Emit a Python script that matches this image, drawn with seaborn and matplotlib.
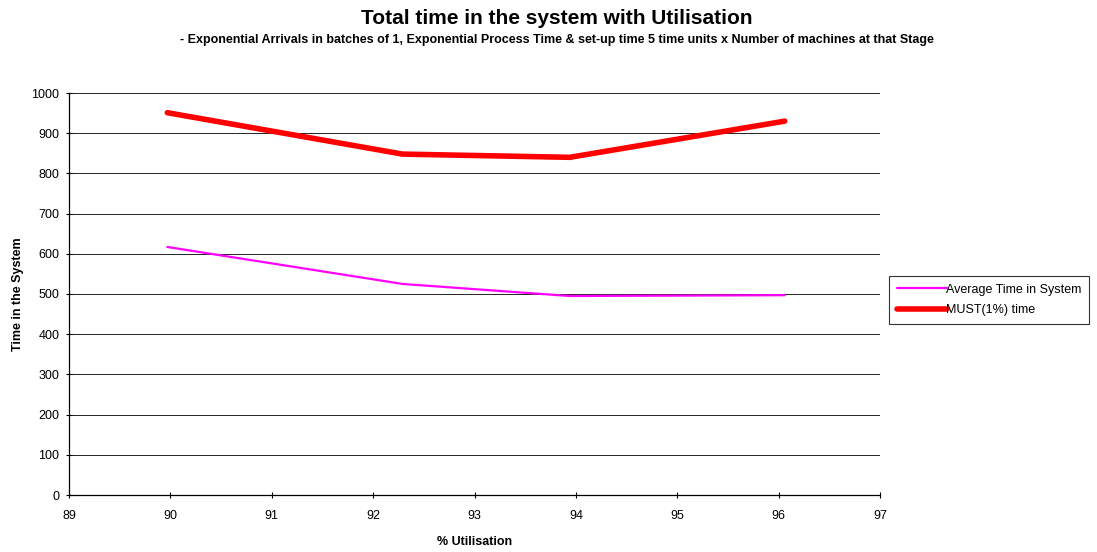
import matplotlib
matplotlib.use("Agg")
import matplotlib.pyplot as plt
import seaborn as sns
import pandas as pd

# Utilisation (%) and timings read per stage configuration
utilisation = [89.97, 92.29, 93.94, 96.06]
avg_time = [617, 525, 495, 497]
must_time = [951, 848, 840, 930]

series_names = ["Average Time in System", "MUST(1%) time"]
x_ticks = list(range(89, 98))
y_ticks = list(range(0, 1001, 100))

sns.set_theme(style="white")
plt.rcParams["font.family"] = ["Liberation Sans", "DejaVu Sans"]
plt.rcParams["text.color"] = "black"
plt.rcParams["axes.labelcolor"] = "black"

fig = plt.figure(figsize=(10.97, 5.52), dpi=100)
ax = fig.add_axes([69 / 1097, 1 - 495 / 552, (880 - 69) / 1097, (495 - 93) / 552])

df = pd.DataFrame({
    "util": utilisation * 2,
    "time": avg_time + must_time,
    "series": [series_names[0]] * 4 + [series_names[1]] * 4,
})

sns.lineplot(data=df[df.series == series_names[0]], x="util", y="time",
             color="#ff00ff", linewidth=1.6, ax=ax, label=series_names[0])
sns.lineplot(data=df[df.series == series_names[1]], x="util", y="time",
             color="#ff0000", linewidth=4, ax=ax, label=series_names[1],
             solid_capstyle="round")

ax.set_xlim(89, 97)
ax.set_ylim(0, 1000)
ax.set_xticks(x_ticks)
ax.set_yticks(y_ticks)
ax.tick_params(axis="both", labelsize=9, length=4, width=0.8, direction="inout",
               bottom=True, left=True, colors="black")
ax.tick_params(axis="x", pad=9)
ax.tick_params(axis="y", pad=5)
ax.grid(axis="y", color="black", linewidth=0.6)
ax.set_axisbelow(True)
for side in ["top", "right"]:
    ax.spines[side].set_visible(False)
for side in ["left", "bottom"]:
    ax.spines[side].set_color("black")
    ax.spines[side].set_linewidth(0.9)

ax.set_xlabel("% Utilisation", fontsize=9, fontweight="bold", labelpad=10)
ax.set_ylabel("Time in the System", fontsize=9, fontweight="bold", labelpad=5)

fig.text(557 / 1097, 1 - 18 / 552, "Total time in the system with Utilisation",
         ha="center", va="center", fontsize=15, fontweight="bold")
fig.text(557 / 1097, 1 - 40 / 552,
         "- Exponential Arrivals in batches of 1, Exponential Process Time & set-up time 5 time units x Number of machines at that Stage",
         ha="center", va="center", fontsize=9, fontweight="bold")

handles, labels = ax.get_legend_handles_labels()
ax.get_legend().remove()
leg = fig.legend(handles, labels, loc="center left",
                 bbox_to_anchor=(889 / 1097, 1 - 300 / 552),
                 fontsize=9, frameon=True, fancybox=False, handlelength=4.0,
                 handletextpad=0.0, borderpad=0.6, labelspacing=0.7,
                 borderaxespad=0)
leg.get_frame().set_edgecolor("black")
leg.get_frame().set_linewidth(0.8)

fig.savefig("out.png", dpi=100)
